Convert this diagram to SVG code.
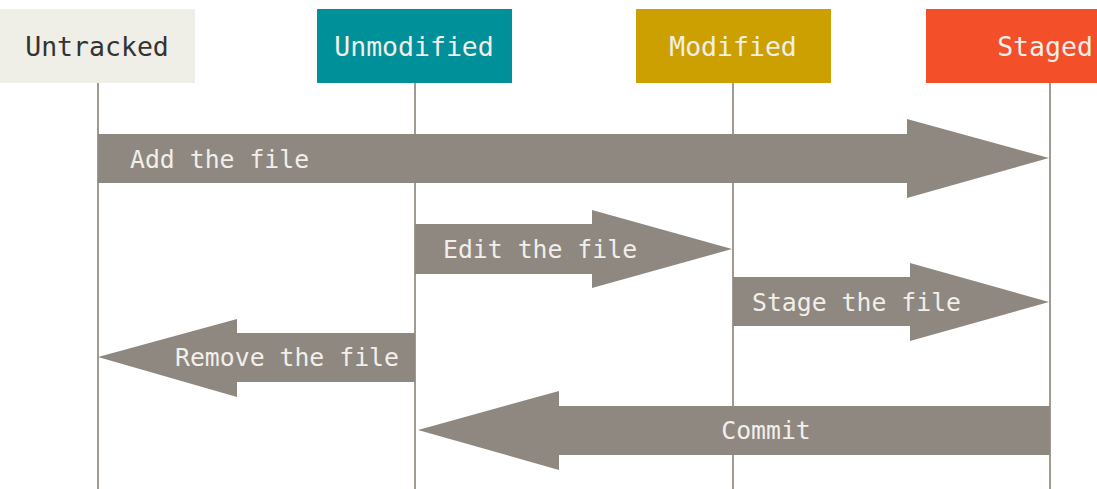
<svg xmlns="http://www.w3.org/2000/svg" width="1097" height="489" viewBox="0 0 1097 489">
<style>
.hdr{font-family:"DejaVu Sans Mono","Liberation Mono",monospace;font-size:26.5px;text-anchor:middle}
.lbl{font-family:"DejaVu Sans Mono","Liberation Mono",monospace;font-size:24.8px;fill:#f1efe9}
.life{stroke:#a09a93;stroke-width:2;fill:none}
.arr{fill:#8f8881}
</style>
<rect width="1097" height="489" fill="#ffffff"/>
<g id="lifelines">
<line class="life" x1="98" y1="83" x2="98" y2="489"/>
<line class="life" x1="415" y1="83" x2="415" y2="489"/>
<line class="life" x1="733" y1="83" x2="733" y2="489"/>
<line class="life" x1="1050" y1="83" x2="1050" y2="489"/>
</g>
<g id="untracked">
<rect x="0" y="9" width="195" height="74" fill="#efeee7"/>
<text class="hdr" x="97" y="56" fill="#333333">Untracked</text>
</g>
<g id="unmodified">
<rect x="317" y="9" width="195" height="74" fill="#00909a"/>
<text class="hdr" x="414" y="56" fill="#f1efe9">Unmodified</text>
</g>
<g id="modified">
<rect x="636" y="9" width="195" height="74" fill="#cca000"/>
<text class="hdr" x="733" y="56" fill="#f1efe9">Modified</text>
</g>
<g id="staged">
<rect x="926" y="9" width="171" height="74" fill="#f34f29"/>
<text class="hdr" x="1045" y="56" fill="#f1efe9">Staged</text>
</g>
<g id="connectors">
<g id="add">
<polygon class="arr" points="98,134 907,134 907,119 1049,158 907,198 907,183 98,183"/>
<text class="lbl" x="130" y="168">Add the file</text>
</g>
<g id="edit">
<polygon class="arr" points="415,224 592,224 592,210 732,249 592,288 592,274 415,274"/>
<text class="lbl" x="443" y="258">Edit the file</text>
</g>
<g id="stage">
<polygon class="arr" points="733,277 910,277 910,263 1049,302 910,341 910,326 733,326"/>
<text class="lbl" x="752" y="311">Stage the file</text>
</g>
<g id="remove">
<polygon class="arr" points="415,333 237,333 237,319 98,357 237,397 237,382 415,382"/>
<text class="lbl" x="175" y="366">Remove the file</text>
</g>
<g id="commit">
<polygon class="arr" points="1050,406 559,406 559,391 418,430 559,470 559,455 1050,455"/>
<text class="lbl" x="766" y="439" text-anchor="middle">Commit</text>
</g>
</g>
</svg>
